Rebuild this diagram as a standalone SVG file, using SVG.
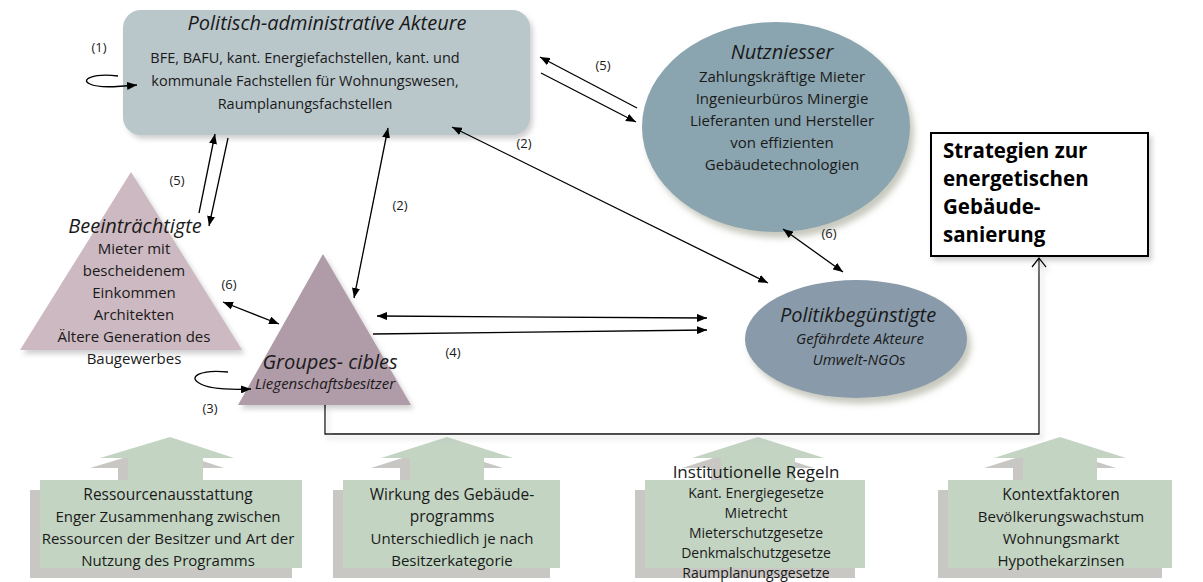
<svg xmlns="http://www.w3.org/2000/svg" width="1203" height="582" viewBox="0 0 1203 582">
  <defs>
    <style>
      .t { font-family: "Open Sans", "Noto Sans", "Liberation Sans", sans-serif; fill: #1a1a1a; text-anchor: middle; }
      .it { font-style: italic; }
      .h { font-size: 20px; }
      .b { font-size: 15px; }
      .lbl { font-family: "Open Sans", "Noto Sans", "Liberation Sans", sans-serif; font-size: 13px; fill: #1a1a1a; text-anchor: middle; }
      .strat { font-family: "Open Sans", "Noto Sans", "Liberation Sans", sans-serif; font-weight: bold; font-size: 20.5px; fill: #000; }
      .con { fill: none; stroke: #000; stroke-width: 1.3; }
      .green { fill: #c3d4c3; }
      .grey { fill: #c9c7c4; }
    </style>
    <marker id="arr" viewBox="0 0 10 8" refX="10" refY="4" markerWidth="10" markerHeight="8" markerUnits="userSpaceOnUse" orient="auto-start-reverse">
      <path d="M0,0 L10,4 L0,8 z" fill="#000"/>
    </marker>
    <filter id="sh" x="-20%" y="-20%" width="140%" height="150%">
      <feDropShadow dx="4" dy="6" stdDeviation="3" flood-color="#b9bcae" flood-opacity="0.8"/>
    </filter>
    <filter id="shl" x="-10%" y="-10%" width="130%" height="140%">
      <feDropShadow dx="3" dy="4" stdDeviation="2.5" flood-color="#bdbdbd" flood-opacity="0.7"/>
    </filter>
  </defs>

  <rect width="1203" height="582" fill="#fff"/>

  <!-- Politisch-administrative Akteure -->
  <g id="akteure">
    <rect x="123" y="10" width="407" height="125" rx="18" fill="#b9c6ca" filter="url(#shl)"/>
    <text class="t it h" x="327" y="30">Politisch-administrative Akteure</text>
    <text class="t" x="305" y="63" font-size="14.5">BFE, BAFU, kant. Energiefachstellen, kant. und</text>
    <text class="t" x="305" y="86" font-size="14.5">kommunale Fachstellen für Wohnungswesen,</text>
    <text class="t" x="305" y="109" font-size="14.5">Raumplanungsfachstellen</text>
  </g>

  <!-- Nutzniesser -->
  <g id="nutzniesser">
    <ellipse cx="776" cy="127" rx="134" ry="105" fill="#8aa5af" filter="url(#sh)"/>
    <text class="t it h" x="782" y="59">Nutzniesser</text>
    <text class="t b" x="782" y="82">Zahlungskräftige Mieter</text>
    <text class="t b" x="782" y="104">Ingenieurbüros Minergie</text>
    <text class="t b" x="782" y="126">Lieferanten und Hersteller</text>
    <text class="t b" x="782" y="148">von effizienten</text>
    <text class="t b" x="782" y="170">Gebäudetechnologien</text>
  </g>

  <!-- Politikbegünstigte -->
  <g id="politikbeguenstigte">
    <ellipse cx="856" cy="339" rx="111" ry="59" fill="#899aaa" filter="url(#sh)"/>
    <text class="t it" x="858" y="322" font-size="20">Politikbegünstigte</text>
    <text class="t it" x="860" y="344" font-size="15">Gefährdete Akteure</text>
    <text class="t it" x="859" y="365" font-size="15">Umwelt-NGOs</text>
  </g>

  <!-- Beeinträchtigte -->
  <g id="beeintraechtigte">
    <polygon points="131,172 242,350 20,350" fill="#cdb9c1" filter="url(#shl)"/>
    <text class="t it h" x="135" y="233">Beeinträchtigte</text>
    <text class="t b" x="134" y="254">Mieter mit</text>
    <text class="t b" x="134" y="276">bescheidenem</text>
    <text class="t b" x="134" y="298">Einkommen</text>
    <text class="t b" x="134" y="320">Architekten</text>
    <text class="t b" x="134" y="342">Ältere Generation des</text>
    <text class="t b" x="134" y="364">Baugewerbes</text>
  </g>

  <!-- Groupes-cibles -->
  <g id="groupes-cibles">
    <polygon points="323,254 411,405 238,405" fill="#b09ba8" filter="url(#shl)"/>
    <text class="t it h" x="330" y="369">Groupes- cibles</text>
    <text class="t it" x="325" y="389" font-size="15">Liegenschaftsbesitzer</text>
  </g>

  <!-- Strategien -->
  <g id="strategien">
    <rect x="931" y="133" width="217" height="123" fill="#fff" stroke="#000" stroke-width="2" filter="url(#shl)"/>
    <text class="strat" x="943" y="158">Strategien zur</text>
    <text class="strat" x="943" y="186">energetischen</text>
    <text class="strat" x="943" y="214">Gebäude-</text>
    <text class="strat" x="943" y="242">sanierung</text>
  </g>

  <!-- Ressourcenausstattung -->
  <g id="ressourcen">
    <polygon class="grey" points="160,447 224,468 193,468 193,490 118,490 118,468 90,468"/>
    <rect class="grey" x="30" y="490" width="262" height="88"/>
    <polygon class="green" points="170,437 234,458 203,458 203,480 128,480 128,458 100,458"/>
    <rect class="green" x="40" y="480" width="262" height="88"/>
    <text class="t" x="168" y="500" font-size="15.5">Ressourcenausstattung</text>
    <text class="t" x="168" y="522" font-size="15">Enger Zusammenhang zwischen</text>
    <text class="t" x="168" y="544" font-size="15">Ressourcen der Besitzer und Art der</text>
    <text class="t" x="168" y="566" font-size="15">Nutzung des Programms</text>
  </g>

  <!-- Wirkung des Gebäudeprogramms -->
  <g id="wirkung">
    <polygon class="grey" points="437,447 503,468 474,468 474,490 400,490 400,468 371,468"/>
    <rect class="grey" x="333" y="490" width="217" height="88"/>
    <polygon class="green" points="447,437 513,458 484,458 484,480 410,480 410,458 381,458"/>
    <rect class="green" x="343" y="480" width="217" height="88"/>
    <text class="t" x="452" y="500" font-size="15.5">Wirkung des Gebäude-</text>
    <text class="t" x="452" y="522" font-size="15.5">programms</text>
    <text class="t" x="452" y="544" font-size="15">Unterschiedlich je nach</text>
    <text class="t" x="452" y="566" font-size="15">Besitzerkategorie</text>
  </g>

  <!-- Institutionelle Regeln -->
  <g id="institutionen">
    <polygon class="grey" points="748,447 814,468 785,468 785,490 711,490 711,468 682,468"/>
    <rect class="grey" x="635" y="490" width="220" height="88"/>
    <polygon class="green" points="758,437 824,458 795,458 795,480 721,480 721,458 692,458"/>
    <rect class="green" x="645" y="480" width="220" height="88"/>
    <text class="t" x="756" y="478" font-size="17">Institutionelle Regeln</text>
    <text class="t" x="756" y="498" font-size="14">Kant. Energiegesetze</text>
    <text class="t" x="756" y="518" font-size="14">Mietrecht</text>
    <text class="t" x="756" y="538" font-size="14">Mieterschutzgesetze</text>
    <text class="t" x="756" y="558" font-size="14">Denkmalschutzgesetze</text>
    <text class="t" x="756" y="578" font-size="14">Raumplanungsgesetze</text>
  </g>

  <!-- Kontextfaktoren -->
  <g id="kontext">
    <polygon class="grey" points="1050,447 1116,468 1087,468 1087,490 1013,490 1013,468 984,468"/>
    <rect class="grey" x="938" y="490" width="224" height="88"/>
    <polygon class="green" points="1060,437 1126,458 1097,458 1097,480 1023,480 1023,458 994,458"/>
    <rect class="green" x="948" y="480" width="224" height="88"/>
    <text class="t" x="1061" y="500" font-size="15.5">Kontextfaktoren</text>
    <text class="t" x="1061" y="522" font-size="15">Bevölkerungswachstum</text>
    <text class="t" x="1061" y="544" font-size="15">Wohnungsmarkt</text>
    <text class="t" x="1061" y="566" font-size="15">Hypothekarzinsen</text>
  </g>

  <!-- Connectors -->
  <g id="connectors">
    <!-- (1) self-loop -->
    <path class="con" d="M118,76 C92,73 80,80 90,84 C98,88 115,87 137,85" marker-end="url(#arr)" stroke-width="1.6"/>
    <!-- (5) administration / Nutzniesser -->
    <path class="con" d="M637,108 L540,57" marker-end="url(#arr)"/>
    <path class="con" d="M541,73 L636,122" marker-end="url(#arr)"/>
    <!-- (2) administration / Politikbegünstigte -->
    <path class="con" d="M452,127 L768,283" marker-start="url(#arr)" marker-end="url(#arr)"/>
    <!-- (2) administration / Groupes-cibles -->
    <path class="con" d="M388,128 L354,298" marker-start="url(#arr)" marker-end="url(#arr)"/>
    <!-- (4) Groupes-cibles / Politikbegünstigte -->
    <path class="con" d="M377,316 L707,318" marker-start="url(#arr)" marker-end="url(#arr)"/>
    <path class="con" d="M373,334 L707,330" marker-end="url(#arr)"/>
    <!-- (6) Nutzniesser / Politikbegünstigte -->
    <path class="con" d="M783,229 L843,272" marker-start="url(#arr)" marker-end="url(#arr)"/>
    <!-- (5) administration / Beeinträchtigte -->
    <path class="con" d="M199,213 L215,134" marker-end="url(#arr)"/>
    <path class="con" d="M228,138 L209,226" marker-end="url(#arr)"/>
    <!-- (6) Beeinträchtigte / Groupes-cibles -->
    <path class="con" d="M223,302 L279,324" marker-start="url(#arr)" marker-end="url(#arr)"/>
    <!-- (3) self-loop -->
    <path class="con" d="M228,372 C200,369 188,377 199,383 C208,389 226,390 251,389" marker-end="url(#arr)" stroke-width="1.6"/>
    <!-- Groupes-cibles to Strategien -->
    <g filter="url(#shl)">
      <path class="con" d="M325,405 L325,434 L1039,434 L1039,258" stroke-width="2"/>
      <path class="con" d="M1032,267 L1039,258 L1046,267" stroke-width="2.5"/>
    </g>

    <text class="lbl" x="99" y="52">(1)</text>
    <text class="lbl" x="603" y="70">(5)</text>
    <text class="lbl" x="524" y="148">(2)</text>
    <text class="lbl" x="400" y="210">(2)</text>
    <text class="lbl" x="453" y="357">(4)</text>
    <text class="lbl" x="829" y="238">(6)</text>
    <text class="lbl" x="177" y="185">(5)</text>
    <text class="lbl" x="229" y="289">(6)</text>
    <text class="lbl" x="210" y="413">(3)</text>
  </g>
</svg>
